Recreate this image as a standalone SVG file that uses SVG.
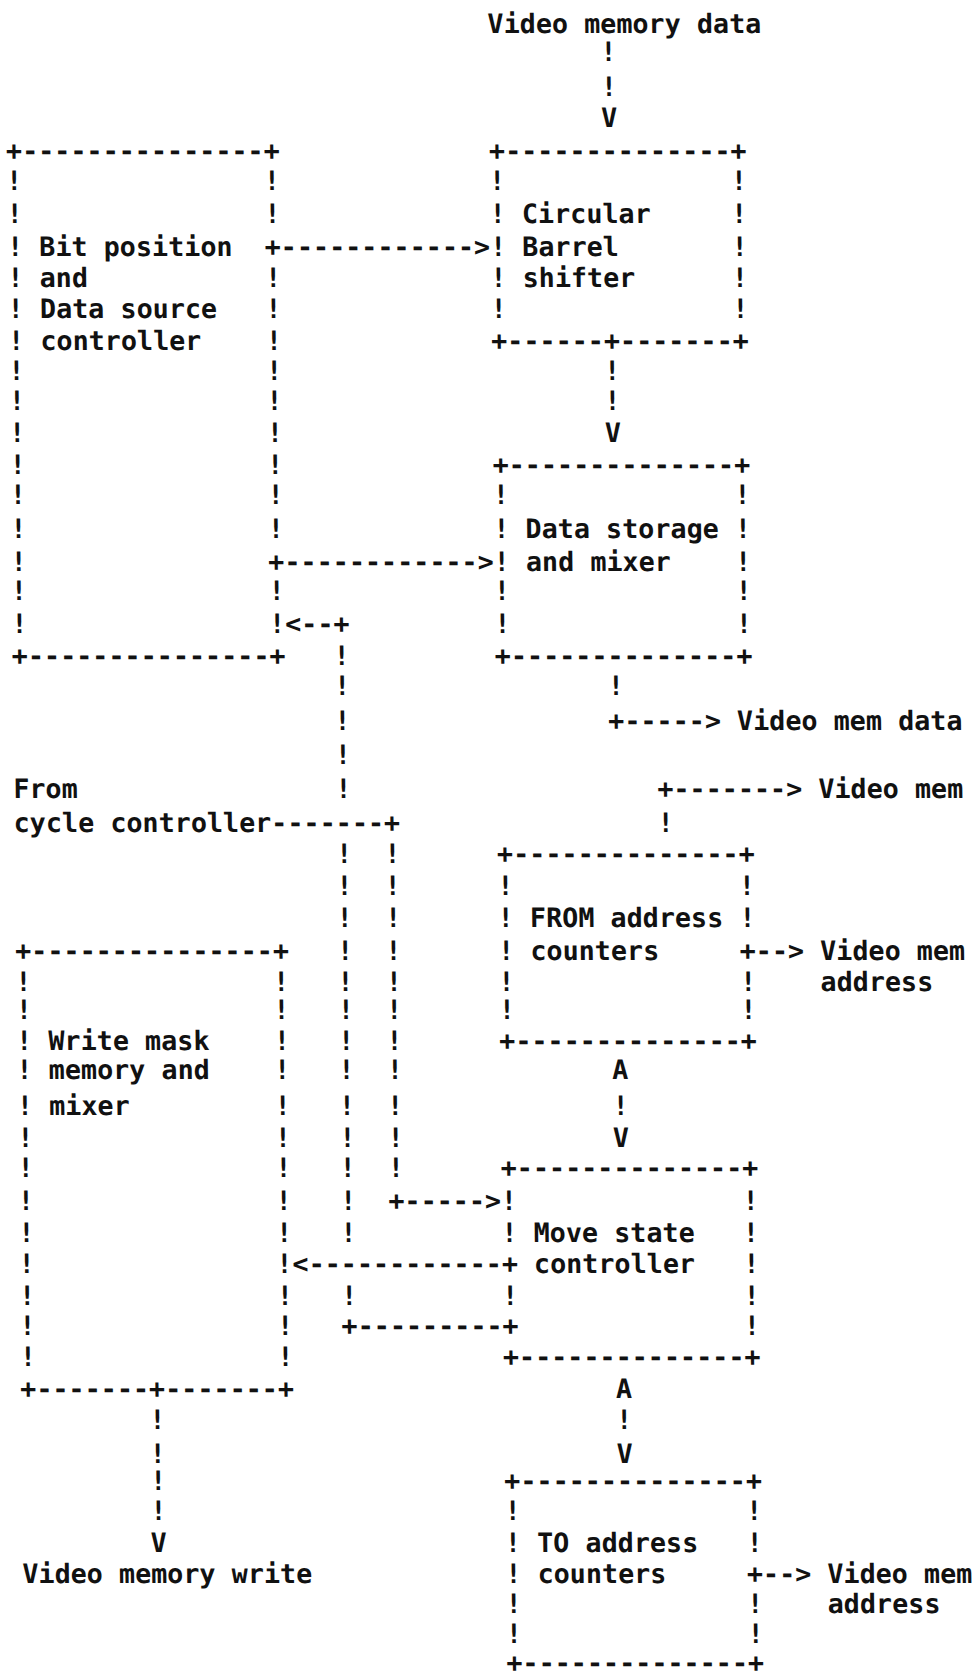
<svg xmlns="http://www.w3.org/2000/svg" width="974" height="1672" viewBox="0 0 974 1672" xml:space="preserve">
<style>
text{font-family:"DejaVu Sans Mono","Liberation Mono",monospace;font-weight:bold;font-size:26.75px;fill:#111;white-space:pre}
</style>
<rect width="974" height="1672" fill="#fff"/>
<g transform="skewX(0.66)">
<g id="bitpos">
<text x="4.2" y="159.6">+---------------+</text>
<text x="4.2" y="189.6">!               !</text>
<text x="4.2" y="222.6">!               !</text>
<text x="4.2" y="255.6">! Bit position</text>
<text x="4.2" y="286.6">! and           !</text>
<text x="4.2" y="317.6">! Data source   !</text>
<text x="4.2" y="349.6">! controller    !</text>
<text x="4.2" y="379.6">!               !</text>
<text x="4.2" y="409.6">!               !</text>
<text x="4.2" y="441.6">!               !</text>
<text x="4.2" y="473.6">!               !</text>
<text x="4.2" y="503.6">!               !</text>
<text x="4.2" y="537.6">!               !</text>
<text x="4.2" y="570.6">!</text>
<text x="4.2" y="599.6">!               !</text>
<text x="4.2" y="632.6">!               !</text>
<text x="4.2" y="664.6">+---------------+</text>
</g>
<g id="barrel">
<text x="487.2" y="159.6">+--------------+</text>
<text x="487.2" y="189.6">!              !</text>
<text x="487.2" y="222.6">! Circular     !</text>
<text x="487.2" y="255.6">! Barrel       !</text>
<text x="487.2" y="286.6">! shifter      !</text>
<text x="487.2" y="317.6">!              !</text>
<text x="487.2" y="349.6">+------+-------+</text>
</g>
<g id="storage">
<text x="487.2" y="473.6">+--------------+</text>
<text x="487.2" y="503.6">!              !</text>
<text x="487.2" y="537.6">! Data storage !</text>
<text x="487.2" y="570.6">! and mixer    !</text>
<text x="487.2" y="599.6">!              !</text>
<text x="487.2" y="632.6">!              !</text>
<text x="487.2" y="664.6">+--------------+</text>
</g>
<g id="fromaddr">
<text x="487.2" y="862.6">+--------------+</text>
<text x="487.2" y="894.6">!              !</text>
<text x="487.2" y="926.6">! FROM address !</text>
<text x="487.2" y="959.6">! counters</text>
<text x="487.2" y="990.6">!              !</text>
<text x="487.2" y="1018.6">!              !</text>
<text x="487.2" y="1049.6">+--------------+</text>
</g>
<g id="writemask">
<text x="4.2" y="959.6">+---------------+</text>
<text x="4.2" y="990.6">!               !</text>
<text x="4.2" y="1018.6">!               !</text>
<text x="4.2" y="1049.6">! Write mask    !</text>
<text x="4.2" y="1078.6">! memory and    !</text>
<text x="4.2" y="1114.6">! mixer         !</text>
<text x="4.2" y="1146.6">!               !</text>
<text x="4.2" y="1176.6">!               !</text>
<text x="4.2" y="1209.6">!               !</text>
<text x="4.2" y="1241.6">!               !</text>
<text x="4.2" y="1272.6">!               !</text>
<text x="4.2" y="1304.6">!               !</text>
<text x="4.2" y="1334.6">!               !</text>
<text x="4.2" y="1365.6">!               !</text>
<text x="4.2" y="1397.6">+-------+-------+</text>
</g>
<g id="movestate">
<text x="487.2" y="1176.6">+--------------+</text>
<text x="487.2" y="1209.6">!              !</text>
<text x="487.2" y="1241.6">! Move state   !</text>
<text x="519.4" y="1272.6">controller   !</text>
<text x="487.2" y="1304.6">!              !</text>
<text x="728.7" y="1334.6">!</text>
<text x="487.2" y="1365.6">+--------------+</text>
</g>
<g id="toaddr">
<text x="487.2" y="1489.6">+--------------+</text>
<text x="487.2" y="1519.6">!              !</text>
<text x="487.2" y="1551.6">! TO address   !</text>
<text x="487.2" y="1582.6">! counters</text>
<text x="487.2" y="1612.6">!              !</text>
<text x="487.2" y="1642.6">!              !</text>
<text x="487.2" y="1672">+--------------+</text>
</g>
<g id="vmdata-in"><text x="487.2" y="32.6">Video memory data</text></g>
<g id="vmdata-out"><text x="728.7" y="729.6">Video mem data</text></g>
<g id="vmem-out"><text x="809.2" y="797.6">Video mem</text></g>
<g id="cycle-ctrl"><text x="4.2" y="797.6">From</text><text x="4.2" y="831.6">cycle controller</text></g>
<g id="vmaddr-from"><text x="809.2" y="959.6">Video mem</text><text x="809.2" y="990.6">address</text></g>
<g id="vmwrite"><text x="4.2" y="1582.6">Video memory write</text></g>
<g id="vmaddr-to"><text x="809.2" y="1582.6">Video mem</text><text x="809.2" y="1612.6">address</text></g>
<g id="connectors">
<text x="599.9" y="60.6">!</text>
<text x="599.9" y="95.6">!</text>
<text x="599.9" y="126.6">V</text>
<text x="261.8" y="255.6">+------------&gt;</text>
<text x="599.9" y="379.6">!</text>
<text x="599.9" y="409.6">!</text>
<text x="599.9" y="441.6">V</text>
<text x="261.8" y="570.6">+------------&gt;</text>
<text x="277.9" y="632.6">&lt;--+</text>
<text x="326.2" y="664.6">!</text>
<text x="326.2" y="694.6">!</text>
<text x="326.2" y="729.6">!</text>
<text x="326.2" y="763.6">!</text>
<text x="326.2" y="797.6">!</text>
<text x="599.9" y="694.6">!</text>
<text x="599.9" y="729.6">+-----&gt;</text>
<text x="648.2" y="797.6">+-------&gt;</text>
<text x="261.8" y="831.6">-------+</text>
<text x="648.2" y="831.6">!</text>
<text x="326.2" y="862.6">!</text>
<text x="326.2" y="894.6">!</text>
<text x="326.2" y="926.6">!</text>
<text x="326.2" y="959.6">!</text>
<text x="326.2" y="990.6">!</text>
<text x="326.2" y="1018.6">!</text>
<text x="326.2" y="1049.6">!</text>
<text x="326.2" y="1078.6">!</text>
<text x="326.2" y="1114.6">!</text>
<text x="326.2" y="1146.6">!</text>
<text x="326.2" y="1176.6">!</text>
<text x="326.2" y="1209.6">!</text>
<text x="326.2" y="1241.6">!</text>
<text x="326.2" y="1304.6">!</text>
<text x="374.5" y="862.6">!</text>
<text x="374.5" y="894.6">!</text>
<text x="374.5" y="926.6">!</text>
<text x="374.5" y="959.6">!</text>
<text x="374.5" y="990.6">!</text>
<text x="374.5" y="1018.6">!</text>
<text x="374.5" y="1049.6">!</text>
<text x="374.5" y="1078.6">!</text>
<text x="374.5" y="1114.6">!</text>
<text x="374.5" y="1146.6">!</text>
<text x="374.5" y="1176.6">!</text>
<text x="374.5" y="1209.6">+-----&gt;</text>
<text x="277.9" y="1272.6">&lt;------------+</text>
<text x="326.2" y="1334.6">+---------+</text>
<text x="728.7" y="959.6">+--&gt;</text>
<text x="599.9" y="1078.6">A</text>
<text x="599.9" y="1114.6">!</text>
<text x="599.9" y="1146.6">V</text>
<text x="599.9" y="1397.6">A</text>
<text x="599.9" y="1428.6">!</text>
<text x="599.9" y="1462.6">V</text>
<text x="133" y="1428.6">!</text>
<text x="133" y="1462.6">!</text>
<text x="133" y="1489.6">!</text>
<text x="133" y="1519.6">!</text>
<text x="133" y="1551.6">V</text>
<text x="728.7" y="1582.6">+--&gt;</text>
</g>
</g>
</svg>
